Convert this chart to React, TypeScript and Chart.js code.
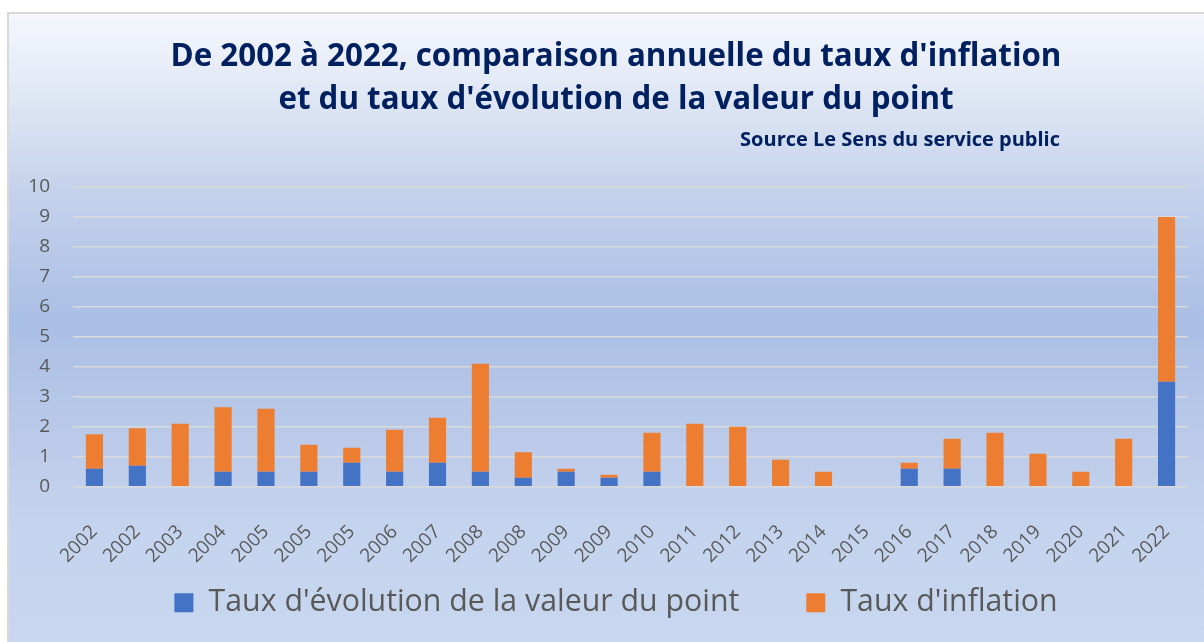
import React, { useEffect, useRef } from "react";
import { Chart, registerables } from "chart.js";

Chart.register(...registerables);

const categories = [
  "2002", "2002", "2003", "2004", "2005", "2005", "2005", "2006", "2007", "2008",
  "2008", "2009", "2009", "2010", "2011", "2012", "2013", "2014", "2015", "2016",
  "2017", "2018", "2019", "2020", "2021", "2022",
];

const pointEvolution = [
  0.6, 0.7, 0, 0.5, 0.5, 0.5, 0.8, 0.5, 0.8, 0.5,
  0.3, 0.5, 0.3, 0.5, 0, 0, 0, 0, 0, 0.6,
  0.6, 0, 0, 0, 0, 3.5,
];

const inflation = [
  1.15, 1.25, 2.1, 2.15, 2.1, 0.9, 0.5, 1.4, 1.5, 3.6,
  0.85, 0.1, 0.1, 1.3, 2.1, 2.0, 0.9, 0.5, 0, 0.2,
  1.0, 1.8, 1.1, 0.5, 1.6, 5.5,
];

const yTicks = [0, 1, 2, 3, 4, 5, 6, 7, 8, 9, 10];

const titleLines = [
  "De 2002 à 2022, comparaison annuelle du taux d'inflation",
  "et du taux d'évolution de la valeur du point",
];
const sourceText = "Source Le Sens du service public";
const seriesNames = ["Taux d'évolution de la valeur du point", "Taux d'inflation"];

const FONT = "'Open Sans', 'DejaVu Sans', sans-serif";

const backgroundPlugin = {
  id: "frameBackground",
  beforeDraw(chart: any) {
    const { ctx, width, height } = chart;
    ctx.save();
    ctx.fillStyle = "#ffffff";
    ctx.fillRect(0, 0, width, height);
    ctx.fillStyle = "#d9d9d9";
    ctx.fillRect(7, 12, width - 7, height - 12);
    const g = ctx.createLinearGradient(0, 14, 0, height);
    g.addColorStop(0, "#f5f7fc");
    g.addColorStop(0.17, "#d9e2f2");
    g.addColorStop(0.27, "#c6d3ec");
    g.addColorStop(0.49, "#aabfe5");
    g.addColorStop(0.69, "#bccbe9");
    g.addColorStop(0.82, "#c5d4ee");
    g.addColorStop(1, "#c8d7ef");
    ctx.fillStyle = g;
    ctx.fillRect(9, 14, width - 9, height - 14);
    ctx.restore();
  },
};

const sourcePlugin = {
  id: "sourceLine",
  afterDraw(chart: any) {
    const { ctx } = chart;
    ctx.save();
    ctx.font = `bold 20px ${FONT}`;
    ctx.fillStyle = "#002060";
    ctx.textAlign = "right";
    ctx.textBaseline = "middle";
    ctx.fillText(sourceText, 1060, 140);
    ctx.restore();
  },
};

// let tick labels draw outside the (fixed-size) axis box
const noLabelClip = (scale: any) => {
  scale._computeLabelArea = () => undefined;
};

export default function App() {
  const ref = useRef<HTMLCanvasElement>(null);

  useEffect(() => {
    if (!ref.current) return;
    const chart = new Chart(ref.current, {
      type: "bar",
      data: {
        labels: categories,
        datasets: [
          {
            label: seriesNames[0],
            data: pointEvolution,
            backgroundColor: "#4472c4",
            borderWidth: 0,
          },
          {
            label: seriesNames[1],
            data: inflation,
            backgroundColor: "#ed7d31",
            borderWidth: 0,
          },
        ],
      },
      options: {
        responsive: false,
        animation: false,
        layout: { padding: { left: 44, right: 16, top: 0, bottom: 14 } },
        datasets: {
          bar: { barPercentage: 0.4, categoryPercentage: 1 },
        },
        scales: {
          x: {
            stacked: true,
            grid: { display: false },
            border: { display: false },
            ticks: {
              autoSkip: false,
              maxRotation: 45,
              minRotation: 45,
              padding: 26,
              color: "#595959",
              font: { family: FONT, size: 19 },
            },
            afterFit(scale: any) {
              scale.height = 34;
              scale.paddingLeft = 0;
              scale.paddingRight = 0;
              noLabelClip(scale);
            },
          },
          y: {
            stacked: true,
            min: 0,
            max: 10,
            afterBuildTicks(scale: any) {
              scale.ticks = yTicks.map((v) => ({ value: v }));
            },
            grid: { color: "#d9d9d9", lineWidth: 1.5, drawTicks: false },
            border: { display: false },
            ticks: {
              padding: 23,
              color: "#595959",
              font: { family: FONT, size: 19 },
            },
            afterFit(scale: any) {
              scale.width = 29;
              noLabelClip(scale);
            },
          },
        },
        plugins: {
          title: {
            display: true,
            text: titleLines,
            color: "#002060",
            font: { family: FONT, size: 31.3, weight: "bold", lineHeight: 43 / 31.3 },
            padding: { top: 36, bottom: 65 },
          },
          legend: {
            position: "bottom",
            labels: {
              boxWidth: 19,
              boxHeight: 19,
              padding: 67,
              color: "#595959",
              font: { family: FONT, size: 30.3 },
            },
          },
          tooltip: { enabled: false },
        },
      },
      plugins: [backgroundPlugin, sourcePlugin],
    });
    return () => chart.destroy();
  }, []);

  return (
    <div style={{ position: "fixed", left: 0, top: 0, width: 1204, height: 642 }}>
      <canvas ref={ref} width={1204} height={642} style={{ display: "block" }} />
    </div>
  );
}
